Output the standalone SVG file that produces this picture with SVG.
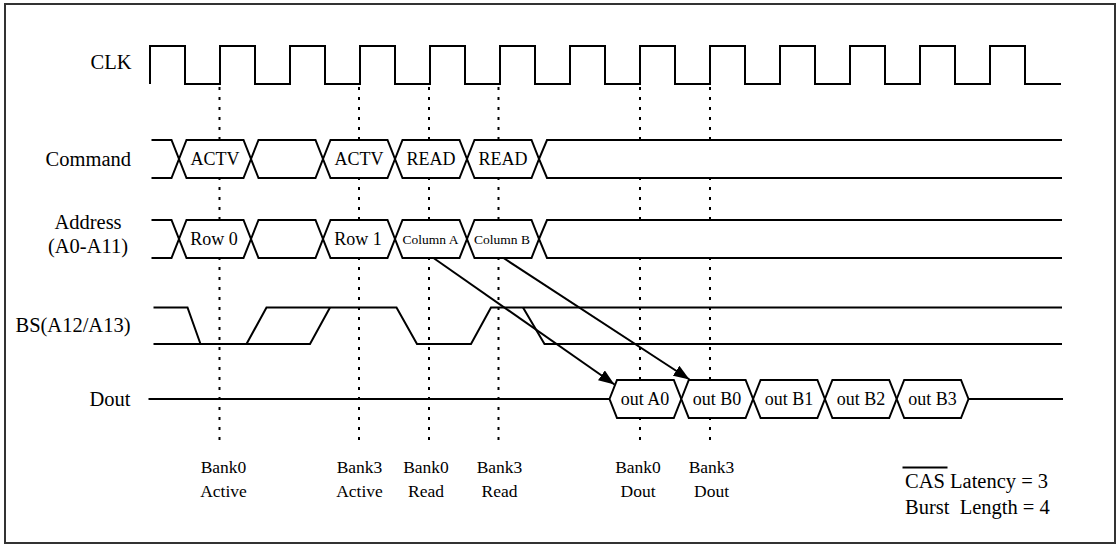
<svg xmlns="http://www.w3.org/2000/svg" width="1120" height="548" viewBox="0 0 1120 548">
<style>
  .w { fill: none; stroke: #000; stroke-width: 2; stroke-linejoin: miter; }
  .hx { fill: #fff; stroke: #000; stroke-width: 2; }
  .dot { fill: none; stroke: #000; stroke-width: 2; stroke-dasharray: 3 7; }
  .lbl { font-family: "Liberation Serif", "Times New Roman", serif; font-size: 20.5px; fill: #000; }
  .in { font-family: "Liberation Serif", "Times New Roman", serif; font-size: 18px; fill: #000; text-anchor: middle; }
  .sm { font-family: "Liberation Serif", "Times New Roman", serif; font-size: 13.5px; fill: #000; text-anchor: middle; }
  .bk { font-family: "Liberation Serif", "Times New Roman", serif; font-size: 17.5px; fill: #000; text-anchor: middle; }
  .arr { fill: none; stroke: #000; stroke-width: 2; }
</style>
<defs>
  <marker id="ah" markerUnits="userSpaceOnUse" markerWidth="17" markerHeight="12" refX="16" refY="6" orient="auto">
    <path d="M0,0 L16,6 L0,12 z" fill="#000"/>
  </marker>
</defs>
<rect x="0" y="0" width="1120" height="548" fill="#fff"/>
<rect id="frame" x="5" y="4" width="1110" height="539" fill="none" stroke="#333" stroke-width="2"/>

<g id="guides">
  <line class="dot" x1="219.5" y1="87" x2="219.5" y2="443"/>
  <line class="dot" x1="359" y1="87" x2="359" y2="443"/>
  <line class="dot" x1="429" y1="87" x2="429" y2="443"/>
  <line class="dot" x1="498.5" y1="87" x2="498.5" y2="443"/>
  <line class="dot" x1="640" y1="87" x2="640" y2="443"/>
  <line class="dot" x1="710" y1="87" x2="710" y2="443"/>
</g>

<g id="clk">
  <text class="lbl" x="131.5" y="69" text-anchor="end">CLK</text>
  <path class="w" d="M150,84 V46 H185 V84 H220 V46 H255 V84 H290 V46 H325 V84 H360 V46 H395 V84 H430 V46 H465 V84 H500 V46 H535 V84 H570 V46 H605 V84 H640 V46 H675 V84 H710 V46 H745 V84 H780 V46 H815 V84 H850 V46 H885 V84 H920 V46 H955 V84 H990 V46 H1025 V84 H1061"/>
</g>

<g id="command">
  <text class="lbl" x="131" y="166" text-anchor="end">Command</text>
  <path class="w" d="M151.5,140 H171.5 L179,159 L171.5,178 H151.5"/>
  <polygon class="hx" points="179,159 186.5,140 243.5,140 251,159 243.5,178 186.5,178"/>
  <polygon class="hx" points="251,159 258.5,140 315.5,140 323,159 315.5,178 258.5,178"/>
  <polygon class="hx" points="323,159 330.5,140 387.5,140 395,159 387.5,178 330.5,178"/>
  <polygon class="hx" points="395,159 402.5,140 459.5,140 467,159 459.5,178 402.5,178"/>
  <polygon class="hx" points="467,159 474.5,140 531.5,140 539,159 531.5,178 474.5,178"/>
  <path class="hx" d="M1062,140 H547 L539,159 L547,178 H1062"/>
  <text class="in" x="215" y="165">ACTV</text>
  <text class="in" x="359" y="165">ACTV</text>
  <text class="in" x="431" y="165">READ</text>
  <text class="in" x="503" y="165">READ</text>
</g>

<g id="address">
  <text class="lbl" x="88" y="229" text-anchor="middle">Address</text>
  <text class="lbl" x="88" y="253" text-anchor="middle">(A0-A11)</text>
  <path class="w" d="M151.5,220 H171.5 L179,239 L171.5,258 H151.5"/>
  <polygon class="hx" points="179,239 186.5,220 243.5,220 251,239 243.5,258 186.5,258"/>
  <polygon class="hx" points="251,239 258.5,220 315.5,220 323,239 315.5,258 258.5,258"/>
  <polygon class="hx" points="323,239 330.5,220 387.5,220 395,239 387.5,258 330.5,258"/>
  <polygon class="hx" points="395,239 402.5,220 459.5,220 467,239 459.5,258 402.5,258"/>
  <polygon class="hx" points="467,239 474.5,220 531.5,220 539,239 531.5,258 474.5,258"/>
  <path class="hx" d="M1062,220 H547 L539,239 L547,258 H1062"/>
  <text class="in" x="214" y="245">Row 0</text>
  <text class="in" x="358" y="245">Row 1</text>
  <text class="sm" x="430.5" y="243.5">Column A</text>
  <text class="sm" x="502" y="243.5">Column B</text>
</g>

<g id="bs">
  <text class="lbl" x="130.5" y="332" text-anchor="end">BS(A12/A13)</text>
  <path class="w" d="M153.5,307.5 H187.5 L200.5,344"/>
  <path class="w" d="M153.5,344 H310 L330,307.5"/>
  <path class="w" d="M246.5,344 L266.5,307.5 H396.5 L417,344 H471 L491,307.5 H1062"/>
  <path class="w" d="M523,307.5 L544.5,344 H1062"/>
</g>

<g id="dout">
  <text class="lbl" x="130.5" y="406" text-anchor="end">Dout</text>
  <line class="w" x1="148.5" y1="399" x2="609.5" y2="399"/>
  <line class="w" x1="968.5" y1="399" x2="1063" y2="399"/>
  <polygon class="hx" points="609.5,399 617,380 673.8,380 681.3,399 673.8,418 617,418"/>
  <polygon class="hx" points="681.3,399 688.8,380 745.6,380 753.1,399 745.6,418 688.8,418"/>
  <polygon class="hx" points="753.1,399 760.6,380 817.4,380 824.9,399 817.4,418 760.6,418"/>
  <polygon class="hx" points="824.9,399 832.4,380 889.2,380 896.7,399 889.2,418 832.4,418"/>
  <polygon class="hx" points="896.7,399 904.2,380 961,380 968.5,399 961,418 904.2,418"/>
  <text class="in" x="645" y="405">out A0</text>
  <text class="in" x="717" y="405">out B0</text>
  <text class="in" x="789" y="405">out B1</text>
  <text class="in" x="861" y="405">out B2</text>
  <text class="in" x="932.5" y="405">out B3</text>
</g>

<g id="connectors">
  <line class="arr" x1="433.5" y1="258" x2="614.5" y2="384.5" marker-end="url(#ah)"/>
  <line class="arr" x1="503.5" y1="258" x2="689.5" y2="379.5" marker-end="url(#ah)"/>
</g>

<g id="events">
  <text class="bk" x="223.5" y="473">Bank0</text>
  <text class="bk" x="223.5" y="497">Active</text>
  <text class="bk" x="359.5" y="473">Bank3</text>
  <text class="bk" x="359.5" y="497">Active</text>
  <text class="bk" x="426" y="473">Bank0</text>
  <text class="bk" x="426" y="497">Read</text>
  <text class="bk" x="499.5" y="473">Bank3</text>
  <text class="bk" x="499.5" y="497">Read</text>
  <text class="bk" x="638" y="473">Bank0</text>
  <text class="bk" x="638" y="497">Dout</text>
  <text class="bk" x="711.5" y="473">Bank3</text>
  <text class="bk" x="711.5" y="497">Dout</text>
</g>

<g id="notes">
  <line x1="902.5" y1="467.5" x2="947.5" y2="467.5" stroke="#000" stroke-width="2"/>
  <text class="lbl" x="905" y="487.5">CAS Latency = 3</text>
  <text class="lbl" x="905" y="513.5" xml:space="preserve">Burst  Length = 4</text>
</g>
</svg>
